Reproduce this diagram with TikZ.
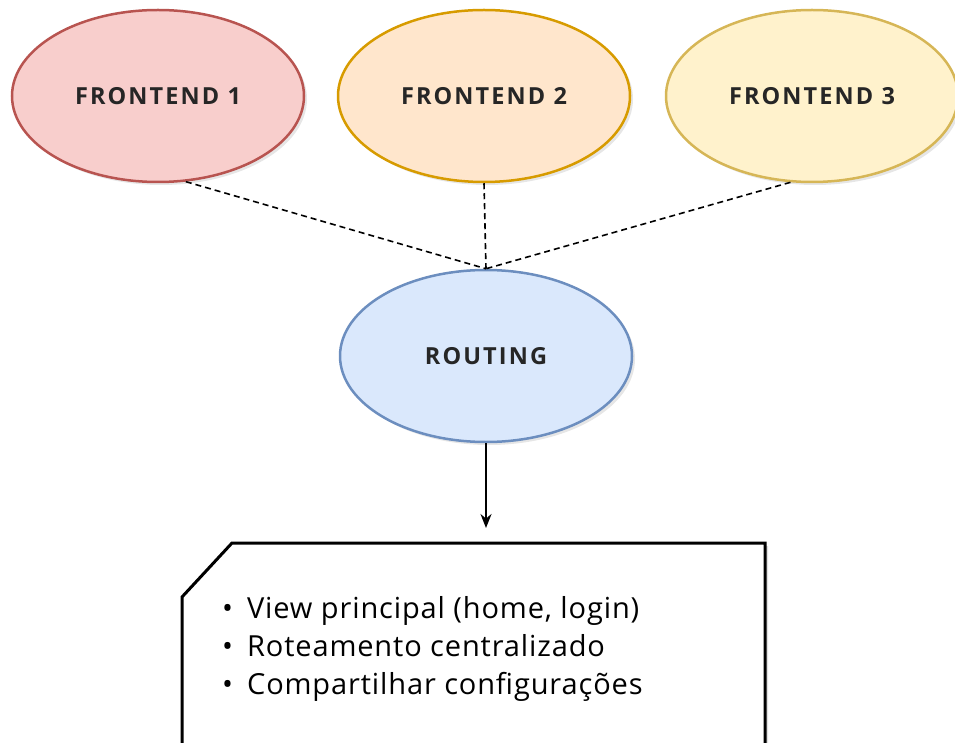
\documentclass[tikz,border=0pt]{standalone}
\usepackage{fontspec}
\setmainfont{Open Sans}
\usetikzlibrary{shapes.geometric,shadows,arrows.meta}

\definecolor{redfill}{HTML}{F8CECC}
\definecolor{redline}{HTML}{B85450}
\definecolor{orangefill}{HTML}{FFE6CC}
\definecolor{orangeline}{HTML}{D79B00}
\definecolor{yellowfill}{HTML}{FFF2CC}
\definecolor{yellowline}{HTML}{D6B656}
\definecolor{bluefill}{HTML}{DAE8FC}
\definecolor{blueline}{HTML}{6C8EBF}

\tikzset{
  blob/.style={ellipse, line width=2.5pt, minimum width=292pt, minimum height=172pt,
    font=\fontsize{23.5}{26}\selectfont\bfseries\addfontfeatures{LetterSpace=9},
    text=black!85, drop shadow={opacity=0.2, shadow xshift=3pt, shadow yshift=-3pt}},
  link/.style={line width=1.6pt, dash pattern=on 6pt off 4pt},
}

\begin{document}
\begin{tikzpicture}[x=1pt, y=-1pt]
\useasboundingbox (0,0) rectangle (955,743);

% Os tres frontends
\node[blob, fill=redfill, draw=redline] (fe1) at (158,96) {FRONTEND 1};
\node[blob, fill=orangefill, draw=orangeline] (fe2) at (484,96) {FRONTEND 2};
\node[blob, fill=yellowfill, draw=yellowline] (fe3) at (812,96) {FRONTEND 3};

% Roteamento
\node[blob, fill=bluefill, draw=blueline] (routing) at (486,356) {ROUTING};

% Ligacoes tracejadas ate o topo do routing
\draw[link] (fe1.-72) -- (routing.north);
\draw[link] (fe2.south) -- (routing.north);
\draw[link] (fe3.-104) -- (routing.north);

% Cartao com a lista (canto superior esquerdo cortado)
\draw[line width=3pt, fill=white, drop shadow={opacity=0.25, shadow xshift=3pt, shadow yshift=-3pt}]
  (182,760) -- (182,597) -- (232,543) -- (765,543) -- (765,760);
\node[anchor=base west, align=left, inner sep=0pt,
  font=\fontsize{29}{38}\selectfont\addfontfeatures{LetterSpace=3}] (lista) at (222,694)
  {\textbullet\hspace{14pt}View principal (home, login)\\
   \textbullet\hspace{14pt}Roteamento centralizado\\
   \textbullet\hspace{14pt}Compartilhar configurações};

% Seta para o cartao
\coordinate (topo) at (486,528);
\draw[-{Stealth[length=14pt,width=11pt]}, line width=1.8pt] (routing.south) -- (topo);

\end{tikzpicture}
\end{document}
